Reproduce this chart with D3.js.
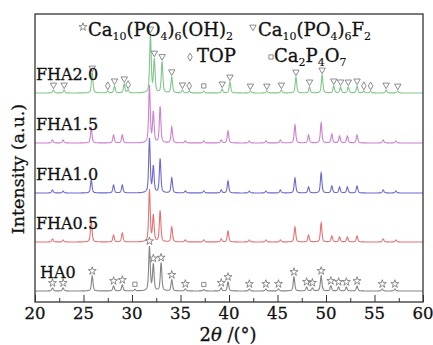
<!DOCTYPE html>
<html>
<head>
<meta charset="utf-8">
<script src="https://cdn.jsdelivr.net/npm/d3@7"></script>
<style>
  body { margin: 0; background: #fff; }
  svg text { font-family: "DejaVu Serif", serif; fill: #111; stroke: #111; stroke-width: 0.3px; }
</style>
</head>
<body>
<svg id="chart" width="433" height="345"></svg>
<script>
// ---- data ----
const seriesNames = ['HA0', 'FHA0.5', 'FHA1.0', 'FHA1.5', 'FHA2.0'];
// vertical stacking offset of each pattern, a.u.
const seriesOffsets = [11, 60, 109, 159, 209];

const ha0Pos = [21.8, 22.9, 25.9, 28.1, 29.0, 30.3, 31.8, 32.2, 33.0, 34.1, 35.5, 37.4, 39.2, 39.9, 42.1, 43.8, 45.1, 46.7, 48.0, 48.6, 49.5, 50.5, 51.3, 52.1, 53.2, 55.8, 57.1];
const ha0Int = [3, 3, 15, 5, 6, 1.5, 44, 26, 28, 11, 2, 1.5, 3, 9, 2, 2, 2, 14, 4, 3, 15, 5, 4, 4, 5, 2, 2];

const fhaPos = [21.8, 22.9, 25.8, 28.1, 29.0, 31.8, 32.2, 32.9, 34.1, 35.5, 37.4, 39.2, 39.9, 42.1, 43.8, 45.3, 46.8, 48.2, 49.5, 50.6, 51.4, 52.2, 53.2, 55.9, 57.2];
const fha05Int = [3, 2, 22, 7, 9, 52, 26, 31, 15, 2, 2, 3, 11, 2, 2, 2, 15, 7, 19, 6, 5, 5, 6, 3, 2];
const fha10Int = [3, 2, 13, 8, 8, 54, 26, 34, 15, 2, 2, 3, 12, 2, 2, 3, 15, 6, 20, 7, 6, 6, 7, 3, 2];
const fha15Int = [3, 3, 15, 8, 8, 57, 30, 36, 16, 2, 2, 3, 12, 2, 2, 3, 18, 8, 20, 9, 7, 7, 8, 3, 2];

const fha20Pos = [21.9, 23.0, 25.9, 27.5, 28.2, 29.2, 29.6, 31.9, 32.3, 33.1, 34.1, 35.2, 35.9, 37.4, 39.3, 40.1, 42.2, 43.9, 45.4, 46.9, 48.3, 49.6, 50.8, 51.5, 52.3, 53.2, 53.9, 54.6, 56.2, 57.4];
const fha20Int = [3, 3, 20, 2, 7, 9, 3, 58, 33, 31, 16, 3, 2, 2, 4, 11, 2, 2, 3, 16, 6, 18, 7, 6, 6, 7, 2, 2, 3, 2];

// phase markers
const ha0Stars = [21.8, 22.9, 25.9, 28.1, 29.0, 31.8, 32.2, 33.0, 34.1, 35.5, 39.2, 39.9, 42.1, 43.8, 45.1, 46.7, 48.0, 48.6, 49.5, 50.5, 51.3, 52.1, 53.2, 55.8, 57.1];
const ha0Squares = [30.3, 37.4];
const fha20Triangles = [21.9, 23.0, 25.9, 28.2, 29.2, 31.9, 32.3, 33.1, 34.1, 35.2, 39.3, 40.1, 42.2, 43.9, 45.4, 46.9, 48.3, 49.6, 50.8, 51.5, 52.3, 53.2, 56.2, 57.4];
const fha20Diamonds = [27.5, 29.6, 35.9, 53.9, 54.6];
const fha20Squares = [37.4];

const xTicks = [20, 25, 30, 35, 40, 45, 50, 55, 60];
const xMinorTicks = [22.5, 27.5, 32.5, 37.5, 42.5, 47.5, 52.5, 57.5];

const peaks = [
  { pos: ha0Pos, int: ha0Int },
  { pos: fhaPos, int: fha05Int },
  { pos: fhaPos, int: fha10Int },
  { pos: fhaPos, int: fha15Int },
  { pos: fha20Pos, int: fha20Int }
];
const colors = ['#858585', '#e57373', '#6a6ad0', '#cf7fd0', '#80c78b'];

// ---- layout ----
const svg = d3.select('svg#chart');
const box = { left: 35, right: 423, top: 14, bottom: 302 };

const xScale = d3.scaleLinear().domain([20, 60]).range([box.left, box.right]);
const yScale = d3.scaleLinear().domain([0, 288]).range([box.bottom, box.top]);

// pseudo-Voigt peak profile
const hw = 0.095;
function profile(p, t) {
  let s = 0;
  p.pos.forEach((c, i) => {
    const u = (t - c) / hw;
    s += p.int[i] * (0.55 / (1 + u * u) + 0.45 * Math.exp(-0.693 * u * u));
  });
  return s;
}

const grid = d3.range(20, 60.001, 0.02);
const line = d3.line()
  .x(d => xScale(d[0]))
  .y(d => yScale(d[1]));

svg.append('clipPath').attr('id', 'plotclip')
  .append('rect')
  .attr('x', box.left).attr('y', box.top)
  .attr('width', box.right - box.left).attr('height', box.bottom - box.top);

const plot = svg.append('g').attr('clip-path', 'url(#plotclip)');

peaks.forEach((p, k) => {
  const pts = grid.map(t => [t, seriesOffsets[k] + profile(p, t)]);
  plot.append('path')
    .attr('d', line(pts))
    .attr('fill', 'none')
    .attr('stroke', colors[k])
    .attr('stroke-width', 1.1);
});

// markers
const markerColor = '#707070';
function symSize(type) { return type === d3.symbolStar ? 20 : 18; }
function drawMarkers(list, k, type, rotate) {
  const sym = d3.symbol().type(type).size(symSize(type));
  plot.selectAll(null)
    .data(list).enter().append('path')
    .attr('d', sym)
    .attr('transform', d => {
      const v = seriesOffsets[k] + profile(peaks[k], d) + 5;
      return 'translate(' + xScale(d) + ',' + yScale(v) + ')' + (rotate ? ' rotate(180)' : '');
    })
    .attr('fill', '#fff')
    .attr('stroke', markerColor)
    .attr('stroke-width', 0.8);
}
drawMarkers(ha0Stars, 0, d3.symbolStar, false);
drawMarkers(ha0Squares, 0, d3.symbolSquare, false);
drawMarkers(fha20Triangles, 4, d3.symbolTriangle, true);
drawMarkers(fha20Diamonds, 4, d3.symbolDiamond, false);
drawMarkers(fha20Squares, 4, d3.symbolSquare, false);

// series labels
svg.selectAll('.slabel')
  .data(seriesNames).enter().append('text')
  .attr('class', 'slabel')
  .attr('x', (d, i) => i === 0 ? 40 : 36)
  .attr('y', (d, i) => yScale(seriesOffsets[i] + 13))
  .attr('font-size', 16)
  .text(d => d);

// frame
svg.append('rect')
  .attr('x', box.left).attr('y', box.top)
  .attr('width', box.right - box.left).attr('height', box.bottom - box.top)
  .attr('fill', 'none')
  .attr('stroke', '#333')
  .attr('stroke-width', 1.3);

// x axis (ticks inward)
const xAxis = svg.append('g')
  .attr('transform', 'translate(0,' + box.bottom + ')')
  .call(d3.axisTop(xScale).tickValues(xTicks).tickSize(7).tickFormat(''));
xAxis.select('.domain').remove();
xAxis.selectAll('line').attr('stroke', '#333');
const xMinor = svg.append('g')
  .attr('transform', 'translate(0,' + box.bottom + ')')
  .call(d3.axisTop(xScale).tickValues(xMinorTicks).tickSize(4).tickFormat(''));
xMinor.select('.domain').remove();
xMinor.selectAll('line').attr('stroke', '#333');

svg.selectAll('.xtl')
  .data(xTicks).enter().append('text')
  .attr('class', 'xtl')
  .attr('x', d => xScale(d))
  .attr('y', 319)
  .attr('text-anchor', 'middle')
  .attr('font-size', 16.5)
  .text(d => d);

// axis titles
const xt = svg.append('text')
  .attr('x', 228).attr('y', 341)
  .attr('text-anchor', 'middle')
  .attr('font-size', 18);
xt.append('tspan').text('2');
xt.append('tspan').attr('font-style', 'italic').text('θ');
xt.append('tspan').text(' /(°)');

svg.append('text')
  .attr('transform', 'translate(24,169) rotate(-90)')
  .attr('text-anchor', 'middle')
  .attr('font-size', 17.5)
  .text('Intensity (a.u.)');

// legend
function chem(x, y, parts) {
  const t = svg.append('text').attr('x', x).attr('y', y).attr('font-size', 18);
  let sub = false;
  parts.forEach(p => {
    const s = !!p[1];
    const ts = t.append('tspan').text(p[0]);
    if (s) ts.attr('font-size', 11).style('stroke-width', '0.15px');
    if (s !== sub) ts.attr('dy', s ? 4 : -4);
    sub = s;
  });
}
function legendSym(x, y, type, rotate) {
  svg.append('path')
    .attr('d', d3.symbol().type(type).size(symSize(type)))
    .attr('transform', 'translate(' + x + ',' + y + ')' + (rotate ? ' rotate(180)' : ''))
    .attr('fill', '#fff')
    .attr('stroke', markerColor)
    .attr('stroke-width', 0.8);
}
legendSym(83, 27, d3.symbolStar, false);
chem(88, 36, [['Ca'], ['10', 1], ['(PO'], ['4', 1], [')'], ['6', 1], ['(OH)'], ['2', 1]]);
legendSym(253, 27, d3.symbolTriangle, true);
chem(258, 36, [['Ca'], ['10', 1], ['(PO'], ['4', 1], [')'], ['6', 1], ['F'], ['2', 1]]);
legendSym(190, 57, d3.symbolDiamond, false);
chem(197, 62, [['TOP']]);
legendSym(271, 57, d3.symbolSquare, false);
chem(274, 62, [['Ca'], ['2', 1], ['P'], ['4', 1], ['O'], ['7', 1]]);
</script>
</body>
</html>
